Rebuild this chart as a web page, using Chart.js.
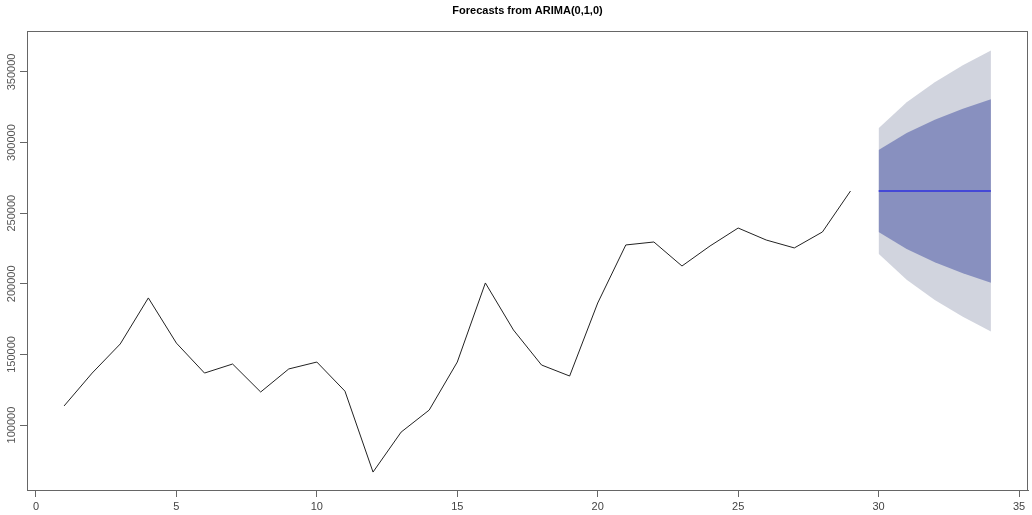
<!DOCTYPE html>
<html>
<head>
<meta charset="utf-8">
<script src="https://cdn.jsdelivr.net/npm/chart.js@4"></script>
<style>
  html, body { margin: 0; padding: 0; background: #fff; }
  #wrap { width: 1032px; height: 515px; }
</style>
</head>
<body>
<div id="wrap"><canvas id="chart"></canvas></div>
<script>
const title = 'Forecasts from ARIMA(0,1,0)';
const periods = [1, 2, 3, 4, 5, 6, 7, 8, 9, 10, 11, 12, 13, 14, 15, 16, 17, 18, 19, 20, 21, 22, 23, 24, 25, 26, 27, 28, 29];
const observed = [113500, 136800, 157400, 190000, 158000, 136800, 143200, 123400, 139700, 144600, 124000, 66700, 95000, 110600,
    144600, 200600, 167300, 142500, 134700, 186400, 227500, 229600, 212600, 226800, 239500, 231000, 225400, 236700, 265700];
const fcPeriods = [30, 31, 32, 33, 34];
const fcMean = [265700, 265700, 265700, 265700, 265700];
const lo80 = [236600, 224600, 215300, 207500, 200700];
const hi80 = [294800, 306800, 316100, 323900, 330700];
const lo95 = [221200, 202800, 188600, 176700, 166200];
const hi95 = [310200, 328600, 342800, 354700, 365200];
const xTicks = [0, 5, 10, 15, 20, 25, 30, 35];
const yTicks = [100000, 150000, 200000, 250000, 300000, 350000];

const pts = (xs, ys) => xs.map((x, i) => ({ x, y: ys[i] }));
const font = 'Liberation Sans, Arial, sans-serif';

const framePlugin = {
    id: 'frame',
    afterDraw(chart) {
        const { ctx, chartArea: a, scales } = chart;
        ctx.save();
        ctx.strokeStyle = '#666';
        ctx.lineWidth = 1;
        ctx.strokeRect(a.left + 0.5, a.top + 0.5, a.right - a.left - 1, a.bottom - a.top);
        // title
        ctx.fillStyle = '#000';
        ctx.font = 'bold 11px ' + font;
        ctx.textAlign = 'center';
        ctx.textBaseline = 'middle';
        ctx.fillText(title, (a.left + a.right) / 2, 11);
        // rotated y labels
        ctx.fillStyle = '#555';
        ctx.font = '11px ' + font;
        yTicks.forEach(v => {
            const y = scales.y.getPixelForValue(v);
            ctx.save();
            ctx.translate(12, y);
            ctx.rotate(-Math.PI / 2);
            ctx.fillText(String(v), 0, 0);
            ctx.restore();
        });
        ctx.restore();
    }
};

new Chart(document.getElementById('chart').getContext('2d'), {
    type: 'line',
    data: {
        datasets: [
            { data: pts(periods, observed), borderColor: '#222', borderWidth: 1, pointRadius: 0, fill: false, order: 0 },
            { data: pts(fcPeriods, fcMean), borderColor: '#0000ee', borderWidth: 1.2, pointRadius: 0, fill: false, order: 1 },
            { data: pts(fcPeriods, hi80), borderWidth: 0, pointRadius: 0, backgroundColor: '#8890bf', fill: '+1', order: 2 },
            { data: pts(fcPeriods, lo80), borderWidth: 0, pointRadius: 0, fill: false, order: 3 },
            { data: pts(fcPeriods, hi95), borderWidth: 0, pointRadius: 0, backgroundColor: '#d1d4de', fill: '+1', order: 4 },
            { data: pts(fcPeriods, lo95), borderWidth: 0, pointRadius: 0, fill: false, order: 5 }
        ]
    },
    options: {
        responsive: true,
        maintainAspectRatio: false,
        animation: false,
        events: [],
        layout: { padding: { top: 31, right: 4, left: 0, bottom: 0 } },
        plugins: { legend: { display: false }, tooltip: { enabled: false } },
        scales: {
            x: {
                type: 'linear', min: -0.32, max: 35.32,
                afterBuildTicks: s => { s.ticks = xTicks.map(value => ({ value })); },
                afterFit: s => { s.height = 25; },
                grid: { drawOnChartArea: false, tickLength: 7, color: '#666' },
                border: { color: '#666' },
                ticks: { color: '#444', font: { family: font, size: 11 }, padding: 3, maxRotation: 0 }
            },
            y: {
                type: 'linear', min: 54000, max: 379000,
                afterBuildTicks: s => { s.ticks = yTicks.map(value => ({ value })); },
                afterFit: s => { s.width = 27; },
                grid: { drawOnChartArea: false, tickLength: 7, color: '#666' },
                border: { color: '#666' },
                ticks: { display: false }
            }
        }
    },
    plugins: [framePlugin]
});
</script>
</body>
</html>
